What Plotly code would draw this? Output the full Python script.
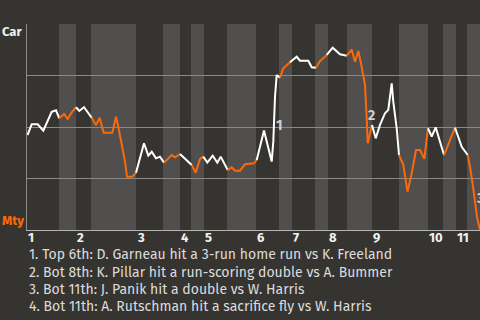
import plotly.graph_objects as go

# ---- data (x = position along the game timeline, 0..453; wp = Car win probability %) ----
inning_labels = ["1", "2", "3", "4", "5", "6", "7", "8", "9", "10", "11"]
inning_starts = [0, 49, 109, 153, 177, 229, 265, 301, 345, 401, 429]
bottom_starts = [32, 64, 136, 164, 200, 252, 288, 320, 372, 416, 440]
timeline_end = 453

x_plays = [0.5, 4.7, 10.7, 16.3, 24.7, 29, 32.3, 37, 40.7, 44.7, 49, 52.3, 57, 63, 64.7, 69,
           72.7, 76.7, 85.3, 89, 91.3, 94.7, 98, 100, 105.3, 109, 112.3, 117, 121.3, 124.7,
           129, 133, 137, 144.7, 148, 153, 164.7, 168.7, 173, 176.3, 180.3, 185.7, 190.3,
           193.7, 197, 200.7, 204.7, 208, 213, 218, 227, 229.7, 237, 244.7, 246.3, 248,
           249.7, 253, 256.3, 263, 269.7, 273, 281.3, 284.7, 289, 293, 299.7, 305.7, 313,
           319.7, 324.7, 328, 331.3, 334, 338, 339.7, 340.7, 343, 345, 348.7, 353, 358,
           361.3, 364.7, 366.3, 369.7, 372, 376.3, 380.5, 384.7, 389, 393, 397.3, 401,
           404.7, 408.7, 417, 428, 434.7, 440.7, 443, 446.3, 448, 450, 453]
wp_car = [46.1, 51.3, 51.3, 48.2, 57.4, 58.1, 54.2, 56.3, 53.9, 57.1, 59.6, 57.8, 59.6, 55.5,
          54.5, 51.0, 54.5, 47.2, 47.2, 55.0, 50.1, 42.1, 33.2, 25.9, 25.9, 27.8, 34.0, 42.1,
          36.1, 38.0, 34.8, 35.6, 32.7, 36.4, 35.3, 36.9, 31.6, 27.8, 34.5, 35.6, 32.7, 36.1,
          32.7, 35.6, 32.4, 29.1, 30.4, 28.8, 28.8, 31.9, 32.4, 34.0, 48.3, 33.2, 42.9, 64.7,
          75.2, 73.9, 78.5, 81.4, 84.1, 82.2, 82.2, 79.0, 78.8, 82.0, 85.0, 88.5, 85.3, 84.6,
          87.5, 81.7, 86.9, 80.9, 70.4, 54.2, 42.1, 46.9, 51.0, 44.5, 51.0, 56.7, 58.3, 71.2,
          62.3, 49.4, 36.4, 31.6, 18.6, 27.5, 38.8, 38.8, 34.5, 49.4, 45.4, 49.8, 36.4, 49.7,
          40.4, 36.4, 30.7, 20.2, 13.7, 6.3, 0.0]

event_marks = ["1", "2", "3", "4"]
event_x = [252, 344, 453, 462]
event_wp = [50.5, 55.8, 15.5, 10.0]
event_texts = [
    "1. Top 6th: D. Garneau hit a 3-run home run vs K. Freeland",
    "2. Bot 8th: K. Pillar hit a run-scoring double vs A. Bummer",
    "3. Bot 11th: J. Panik hit a double vs W. Harris",
    "4. Bot 11th: A. Rutschman hit a sacrifice fly vs W. Harris",
]
team_top = "Car"
team_bottom = "Mty"

# ---- styles ----
BG = "#363430"
BAND = "#504f4d"
GRID = "#8a8a88"
WHITE = "#ffffff"
ORANGE = "#fa6a0a"
TXT = "#dcdcdc"
FONT = "Fira Sans, Roboto, sans-serif"


def is_bottom(x):
    idx = 0
    for i, s in enumerate(inning_starts):
        if x >= s:
            idx = i
    return x >= bottom_starts[idx]


fig = go.Figure()

# split the line into coloured runs by half-inning
runs = []
cur_color = None
cur = None
for i in range(1, len(x_plays)):
    mid = (x_plays[i - 1] + x_plays[i]) / 2
    color = ORANGE if is_bottom(mid) else WHITE
    if color != cur_color:
        if cur:
            runs.append((cur_color, cur))
        cur = [i - 1, i]
        cur_color = color
    else:
        cur.append(i)
runs.append((cur_color, cur))

for color, idxs in runs:
    fig.add_trace(go.Scatter(
        x=[x_plays[k] for k in idxs], y=[wp_car[k] for k in idxs],
        mode="lines", line=dict(color=color, width=2), hoverinfo="skip",
        showlegend=False, cliponaxis=True,
    ))

# bottom-half bands
shapes = []
for i, b in enumerate(bottom_starts):
    end = inning_starts[i + 1] if i + 1 < len(inning_starts) else timeline_end
    shapes.append(dict(type="rect", xref="x", yref="paper", x0=b, x1=end, y0=0, y1=1,
                       fillcolor=BAND, line=dict(width=0), layer="below"))

annotations = []
for lab, s in zip(inning_labels, inning_starts):
    annotations.append(dict(x=s, y=0, xref="x", yref="paper", text="<b>%s</b>" % lab,
                            showarrow=False, xanchor="left", yanchor="top", xshift=-1, yshift=2,
                            font=dict(family=FONT, size=13, color="#f2f2f2")))
for m, ex, ey in zip(event_marks, event_x, event_wp):
    annotations.append(dict(x=ex, y=ey, xref="x", yref="y", text="<b>%s</b>" % m,
                            showarrow=False, xanchor="center", yanchor="middle",
                            font=dict(family=FONT, size=14, color="#d0d0d0")))
for k, t in enumerate(event_texts):
    annotations.append(dict(x=0, y=-0.1195 - k * 0.0845, xref="paper", yref="paper", text=t,
                            showarrow=False, xanchor="left", yanchor="middle", xshift=0,
                            font=dict(family=FONT, size=14, color=TXT)))
annotations.append(dict(x=0, y=0.966, xref="paper", yref="paper", text="<b>%s</b>" % team_top,
                        showarrow=False, xanchor="right", yanchor="middle", xshift=-3,
                        font=dict(family=FONT, size=13, color="#f0f0f0")))
annotations.append(dict(x=0, y=0.044, xref="paper", yref="paper", text="<b>%s</b>" % team_bottom,
                        showarrow=False, xanchor="right", yanchor="middle", xshift=-1,
                        font=dict(family=FONT, size=13, color=ORANGE)))

fig.update_layout(
    width=480, height=320,
    margin=dict(l=27, r=0, t=24, b=90),
    paper_bgcolor=BG, plot_bgcolor=BG,
    shapes=shapes, annotations=annotations,
    xaxis=dict(range=[0, timeline_end], showgrid=False, zeroline=False, showticklabels=False,
               showline=True, linecolor="#b4b4b2", linewidth=1, ticks="", fixedrange=True),
    yaxis=dict(range=[0, 100], tickvals=[25, 50, 75, 100], showgrid=True, gridcolor=GRID,
               gridwidth=1, zeroline=False, showticklabels=False, showline=True,
               linecolor=GRID, linewidth=1, ticks="", fixedrange=True),
)

fig.write_html("out.html", config={"displayModeBar": False})
